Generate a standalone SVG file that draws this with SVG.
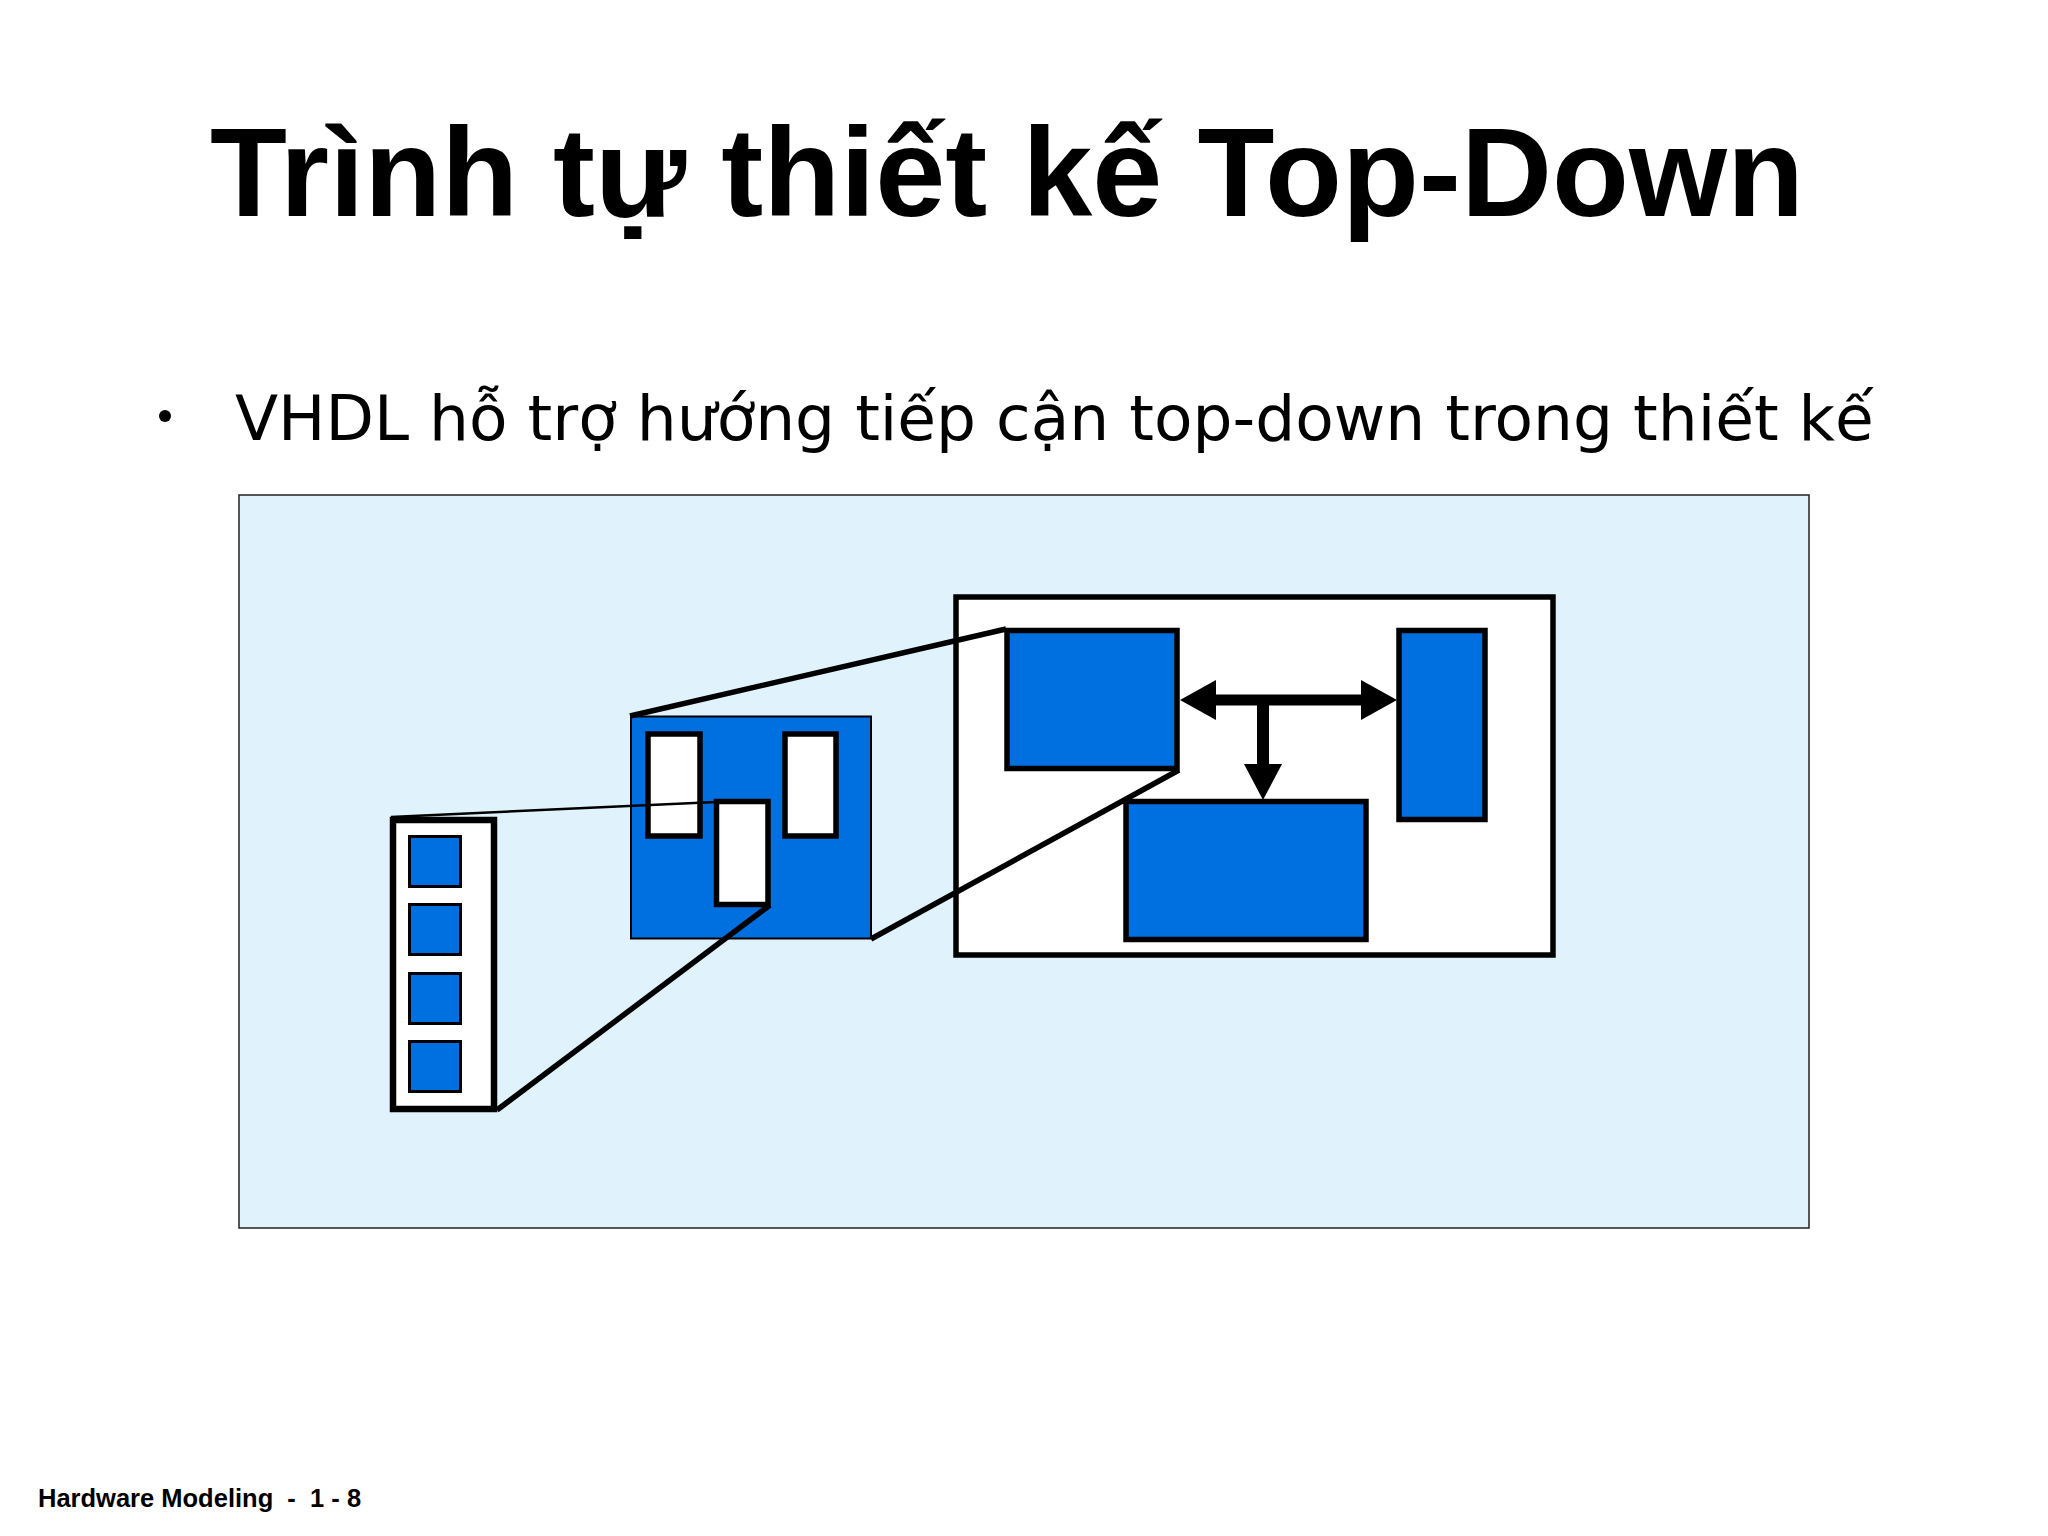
<svg xmlns="http://www.w3.org/2000/svg" width="2048" height="1536" viewBox="0 0 2048 1536">
<style>
.title{font-family:"Liberation Sans",Arial,sans-serif;font-weight:bold;font-size:126px;fill:#000}
.sub{font-family:"DejaVu Sans",Verdana,sans-serif;font-size:63px;fill:#000}
.foot{font-family:"Liberation Sans",Arial,sans-serif;font-weight:bold;font-size:25.5px;fill:#000}
.blue{fill:#006FE0;stroke:#000}
.white{fill:#fff;stroke:#000}
.link{stroke:#000;stroke-width:5.5;fill:none;stroke-linecap:butt}
.thin{stroke:#000;stroke-width:2.5;fill:none}
</style>
<rect width="2048" height="1536" fill="#fff"/>
<text class="title" x="1007" y="216" text-anchor="middle">Trình tự thiết kế Top-Down</text>
<circle cx="165" cy="416" r="6" fill="#000"/>
<text class="sub" x="235" y="440">VHDL hỗ trợ hướng tiếp cận top-down trong thiết kế</text>
<rect id="panel" x="239" y="495" width="1570" height="733" fill="#E0F3FC" stroke="#222" stroke-width="1.5"/>

<g id="leaf-column">
<rect class="white" x="393" y="820" width="101" height="289" stroke-width="6.5"/>
<rect class="blue" x="409.5" y="836.5" width="51" height="50" stroke-width="3"/>
<rect class="blue" x="409.5" y="904.5" width="51" height="50" stroke-width="3"/>
<rect class="blue" x="409.5" y="973.5" width="51" height="50" stroke-width="3"/>
<rect class="blue" x="409.5" y="1041.5" width="51" height="50" stroke-width="3"/>
</g>

<g id="mid-block">
<rect class="blue" x="631" y="716.5" width="240" height="222" stroke-width="2"/>
<rect class="white" x="648" y="734" width="52" height="102" stroke-width="5.5"/>
<rect class="white" x="785" y="734" width="51" height="102" stroke-width="5.5"/>
<rect class="white" x="716.5" y="801.5" width="51.5" height="103" stroke-width="5.5"/>
</g>

<g id="top-block">
<rect class="white" x="956" y="597" width="597" height="358" stroke-width="5.5"/>
<rect id="block-a" class="blue" x="1007" y="630.5" width="170" height="138" stroke-width="5.5"/>
<rect id="block-b" class="blue" x="1399" y="630.5" width="86" height="189" stroke-width="5.5"/>
<rect id="block-c" class="blue" x="1126" y="801.5" width="240" height="138" stroke-width="5.5"/>
</g>

<g id="connectors">
<line class="thin" x1="391" y1="817" x2="716" y2="802"/>
<line class="link" x1="497" y1="1110" x2="770" y2="905"/>
<line class="link" x1="630" y1="716" x2="1006" y2="629"/>
<line class="link" x1="871" y1="939" x2="1179" y2="770"/>
<g id="bus-arrow" fill="#000">
<rect x="1210" y="694.5" width="156" height="11"/>
<polygon points="1180,700 1216,680 1216,720"/>
<polygon points="1397,700 1361,680 1361,720"/>
<rect x="1257" y="700" width="12" height="66"/>
<polygon points="1244,764 1282,764 1263,800"/>
</g>
</g>

<text class="foot" x="38" y="1507" xml:space="preserve">Hardware Modeling  -  1 - 8</text>
</svg>
